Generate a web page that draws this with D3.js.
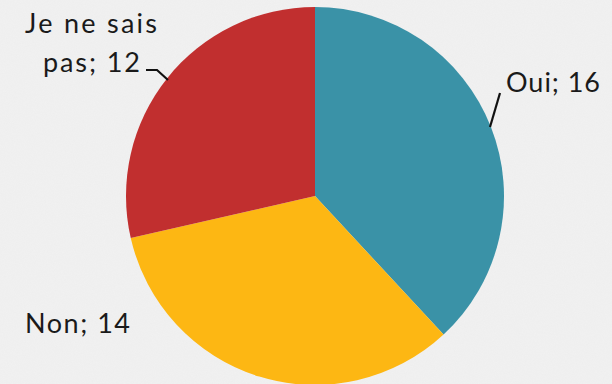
<!DOCTYPE html>
<html><head><meta charset="utf-8">
<script src="https://cdn.jsdelivr.net/npm/d3@7"></script>
<style>html,body{margin:0;padding:0;background:#f0f0f0;}svg{display:block;}</style>
</head><body>
<script>
const categories = ["Oui", "Non", "Je ne sais pas"];
const values = [16, 14, 12];
const colors = ["#3A92A7", "#FDB713", "#C12F2F"];
const labelLines = [["Oui; 16"], ["Non; 14"], ["Je ne sais", "pas; 12"]];

const W = 612, H = 384, cx = 315, cy = 196, r = 189;
const svg = d3.select("body").append("svg").attr("width", W).attr("height", H);
const defs = svg.append("defs");
const f = defs.append("filter").attr("id","tex").attr("x",0).attr("y",0).attr("width","100%").attr("height","100%");
f.append("feTurbulence").attr("type","fractalNoise").attr("baseFrequency",0.9).attr("numOctaves",2).attr("seed",3);
f.append("feColorMatrix").attr("values","0 0 0 0 1  0 0 0 0 1  0 0 0 0 1  0 0 0 0.35 0");
svg.append("rect").attr("width",W).attr("height",H).attr("fill","#eeeeee");
svg.append("rect").attr("width",W).attr("height",H).attr("filter","url(#tex)").attr("opacity",0.5);

const pie = d3.pie().sort(null).value(d => d)(values);
const arc = d3.arc().innerRadius(0).outerRadius(r);
const g = svg.append("g").attr("transform", `translate(${cx},${cy})`);
g.selectAll("path").data(pie).join("path").attr("d", arc).attr("fill", (d,i) => colors[i]);

const font = "'Century Gothic', 'URW Gothic', Lato, 'Noto Sans', sans-serif";
// per-line layout: [x start, baseline y, width]
const lineLayout = [
  [[506, 92, 94]],
  [[25, 333, 105]],
  [[25, 33, 132], [43, 72, 97]]
];
labelLines.forEach((lines, i) => {
  lines.forEach((ln, j) => {
    const [x, y, w] = lineLayout[i][j];
    svg.append("text").attr("font-family", font).attr("font-size", 27).attr("fill", "#1a1a1a")
      .attr("x", x).attr("y", y).attr("textLength", w).attr("lengthAdjust", "spacing").text(ln);
  });
});
// leader lines
const leaders = [
  [[500, 93], [490, 127]],
  [[146, 70], [157, 70], [168, 80]]
];
leaders.forEach(pts => svg.append("path").attr("d", d3.line()(pts)).attr("fill","none").attr("stroke","#111").attr("stroke-width",2.2));
</script>
</body></html>
